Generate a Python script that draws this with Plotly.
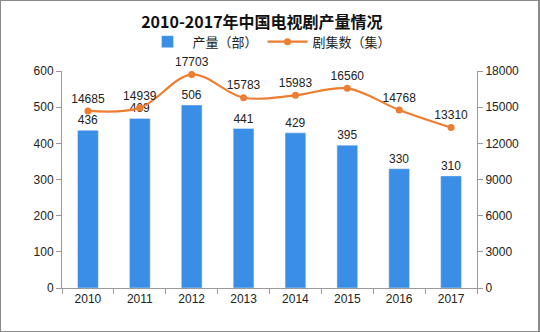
import plotly.graph_objects as go

years = ["2010", "2011", "2012", "2013", "2014", "2015", "2016", "2017"]
output = [436, 469, 506, 441, 429, 395, 330, 310]
episodes = [14685, 14939, 17703, 15783, 15983, 16560, 14768, 13310]

bar_color = "#3A8EE6"
line_color = "#ED7D31"
txt = "#222222"
font_num = "Liberation Sans"

fig = go.Figure()
fig.add_trace(go.Bar(
    x=years, y=output, name="产量（部）", marker_color=bar_color,
    text=[str(v) for v in output], textposition="outside",
    textfont=dict(size=12, color=txt, family=font_num), cliponaxis=False,
))
fig.add_trace(go.Scatter(
    x=years, y=episodes, name="剧集数（集）", yaxis="y2",
    mode="lines+markers+text", line=dict(color=line_color, width=2.2, shape="spline"),
    marker=dict(color=line_color, size=7),
    text=[str(v) for v in episodes], textposition="top center",
    textfont=dict(size=12, color=txt, family=font_num), cliponaxis=False,
))

axis_line = "#9A9A9A"
fig.update_layout(
    width=540, height=332,
    margin=dict(l=62, r=63, t=71, b=44),
    paper_bgcolor="white", plot_bgcolor="white",
    bargap=0.6,
    title=dict(text="<b>2010-2017年中国电视剧产量情况</b>", x=0.485, xanchor="center",
               y=1 - 22 / 332, yanchor="middle",
               font=dict(size=16, color="#111111", family="Noto Sans CJK SC")),
    legend=dict(orientation="h", x=0.5, xanchor="center", y=1.135, yanchor="middle",
                font=dict(size=13, color="#222222", family="Noto Sans CJK SC"),
                itemwidth=40, tracegroupgap=0),
    showlegend=True,
    xaxis=dict(type="category", showline=True, linecolor=axis_line, ticks="outside",
               tickson="boundaries", ticklen=5, tickcolor=axis_line,
               tickfont=dict(size=12, color=txt, family=font_num), showgrid=False),
    yaxis=dict(range=[0, 600], dtick=100, showline=True, linecolor=axis_line,
               ticks="outside", ticklen=5, tickcolor=axis_line, showgrid=False, zeroline=False,
               tickfont=dict(size=12, color=txt, family=font_num)),
    yaxis2=dict(range=[0, 18000], dtick=3000, tickformat="d", overlaying="y", side="right",
                showline=True, linecolor=axis_line, ticks="outside", ticklen=5,
                tickcolor=axis_line, showgrid=False, zeroline=False,
                tickfont=dict(size=12, color=txt, family=font_num)),
    shapes=[dict(type="rect", xref="paper", yref="paper", x0=-62/415, x1=1 + 62/415,
                 y0=-44/217, y1=1 + 71/217, line=dict(color="#8A8A8A", width=2))],
)

fig.write_html("out.html")
